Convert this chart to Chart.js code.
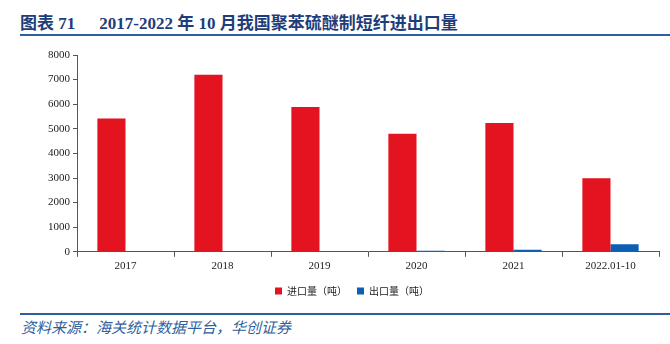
<!DOCTYPE html>
<html>
<head>
<meta charset="utf-8">
<script src="https://cdn.jsdelivr.net/npm/chart.js@4"></script>
<style>
  body { margin: 0; background: #fff; }
  #page { position: relative; width: 670px; height: 344px; overflow: hidden; }
  #title { position: absolute; left: 20px; top: 9px; font-family: "Liberation Serif", "Noto Sans CJK SC", serif; font-weight: bold; font-size: 17px; color: #1f3d7a; white-space: nowrap; }
  #title span { margin-left: 24px; }
  #topline { position: absolute; left: 20px; top: 34px; width: 650px; height: 2px; background: #2f5f9e; }
  #bottomline { position: absolute; left: 20px; top: 313px; width: 650px; height: 2px; background: #2f5f9e; }
  #source { position: absolute; left: 21px; top: 316px; font-family: "Noto Sans CJK SC", serif; font-style: italic; font-size: 15px; color: #2f5f9e; }
  #wrap { position: absolute; left: 0; top: 40px; width: 670px; height: 266px; }
</style>
</head>
<body>
<div id="page">
  <div id="title">图表 71<span>2017-2022 年 10 月我国聚苯硫醚制短纤进出口量</span></div>
  <div id="topline"></div>
  <div id="wrap"><canvas id="chart1"></canvas></div>
  <div id="bottomline"></div>
  <div id="source">资料来源：海关统计数据平台，华创证券</div>
</div>
<script>
var labels = ["2017", "2018", "2019", "2020", "2021", "2022.01-10"];
var imports = [5420, 7200, 5890, 4800, 5240, 2990];
var exports = [20, 30, 15, 40, 80, 310];
var yTicks = [0, 1000, 2000, 3000, 4000, 5000, 6000, 7000, 8000];

var canvasElement = document.getElementById('chart1');

var config = {
    type: 'bar',
    data: {
        labels: labels,
        datasets: [
            { label: "进口量（吨）", data: imports, backgroundColor: "#e3141f" },
            { label: "出口量（吨）", data: exports, backgroundColor: "#0b5fb5" }
        ]
    },
    options: {
        responsive: true,
        maintainAspectRatio: false,
        animation: false,
        datasets: { bar: { categoryPercentage: 0.58, barPercentage: 1 } },
        layout: { padding: { left: 45, right: 11, top: 15, bottom: 0 } },
        plugins: {
            tooltip: { enabled: false },
            legend: {
                position: 'bottom',
                labels: {
                    boxWidth: 7, boxHeight: 7, padding: 10,
                    color: '#222',
                    font: { family: '"Noto Sans CJK SC"', size: 10 }
                }
            }
        },
        scales: {
            x: {
                offset: true,
                grid: { display: true, offset: true, drawOnChartArea: false, drawTicks: true, tickLength: 5, color: '#555' },
                border: { color: '#555', width: 1 },
                ticks: { color: '#222', padding: 3, font: { family: '"Liberation Serif"', size: 11 } }
            },
            y: {
                min: 0, max: 8000,
                afterBuildTicks: function (axis) { axis.ticks = yTicks.map(function (v) { return { value: v }; }); },
                grid: { display: true, drawOnChartArea: false, drawTicks: true, tickLength: 4, color: '#555' },
                border: { color: '#555', width: 1 },
                ticks: {
                    color: '#222', padding: 3,
                    font: { family: '"Liberation Serif"', size: 11 },
                    callback: function (v) { return String(v); }
                }
            }
        }
    }
};

var myChart = new Chart(canvasElement, config);
</script>
</body>
</html>
